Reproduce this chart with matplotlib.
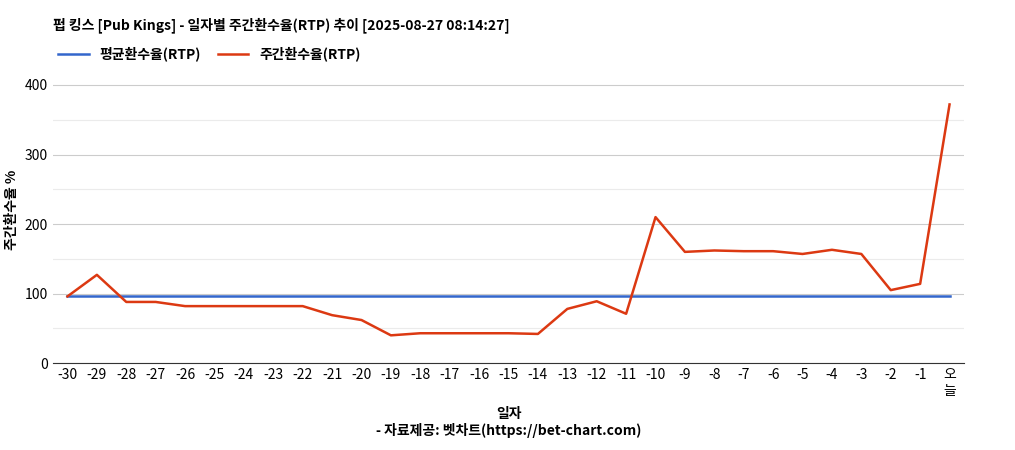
import matplotlib
matplotlib.use("Agg")
import matplotlib.pyplot as plt
from matplotlib.ticker import MultipleLocator

plt.rcParams["font.family"] = ["Noto Sans CJK JP", "Noto Sans CJK KR", "Noto Sans CJK SC", "DejaVu Sans"]

days = list(range(-30, 1))
labels = [str(d) for d in range(-30, 0)] + ["오\n늘"]
rtp = [96, 127, 88, 88, 82, 82, 82, 82, 82, 69, 62, 40, 43, 43, 43, 43, 42,
       78, 89, 71, 210, 160, 162, 161, 161, 157, 163, 157, 105, 114, 372]
avg_rtp = [97] * len(days)

fig = plt.figure(figsize=(10.15, 4.5), dpi=100)
ax = fig.add_axes([0.052, 0.193, 0.898, 0.68])

ax.plot(days, avg_rtp, color="#3366cc", lw=1.8, label="평균환수율(RTP)")
ax.plot(days, rtp, color="#dc3912", lw=1.8, label="주간환수율(RTP)")

ax.set_xlim(-30.5, 0.5)
ax.set_ylim(0, 440)
ax.set_xticks(days)
ax.set_xticklabels(labels, fontsize=10)
ax.yaxis.set_major_locator(MultipleLocator(100))
ax.yaxis.set_minor_locator(MultipleLocator(50))
ax.tick_params(axis="y", labelsize=10, length=0, which="both")
ax.tick_params(axis="x", length=0)
ax.grid(axis="y", which="major", color="#cccccc", lw=0.8)
ax.grid(axis="y", which="minor", color="#ebebeb", lw=0.8)
ax.set_axisbelow(True)
for s in ["top", "right", "left"]:
    ax.spines[s].set_visible(False)
ax.spines["bottom"].set_color("#333333")

ax.set_ylabel("주간환수율 %", fontsize=10, fontweight="bold")
ax.set_xlabel("일자\n- 자료제공: 벳차트(https://bet-chart.com)", fontsize=10,
              fontweight="bold", labelpad=6)

fig.text(0.052, 0.945, "펍 킹스 [Pub Kings] - 일자별 주간환수율(RTP) 추이 [2025-08-27 08:14:27]",
         fontsize=10, fontweight="bold", va="center")
fig.legend(loc="center left", bbox_to_anchor=(0.045, 0.88), ncol=2, frameon=False,
           prop={"size": 10, "weight": "bold"}, handlelength=2.2, columnspacing=1.2)

fig.savefig("out.png", dpi=100)
